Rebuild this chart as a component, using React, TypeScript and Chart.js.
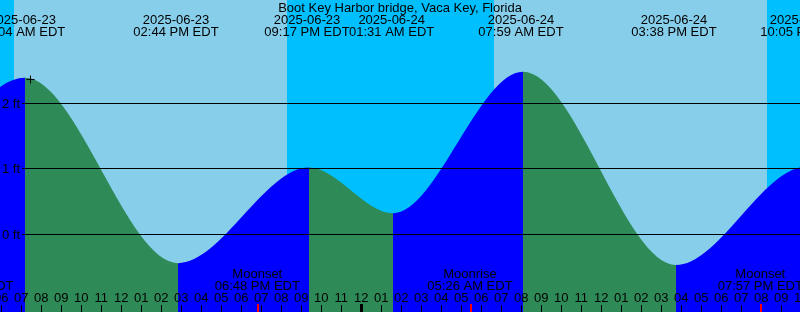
import React, { useEffect, useRef } from "react";
import { Chart, registerables } from "chart.js";

Chart.register(...registerables);

// x axis: hours since 2025-06-23 06:00 EDT ; y axis: feet
const X_MIN = -0.065;
const X_MAX = 39.935;
const Y_MIN = -1.186;
const Y_MAX = 3.577;

const TITLE = "Boot Key Harbor bridge, Vaca Key, Florida";

// tide curve extremes
const tideHours = [-5.3, 1.185, 8.835, 15.385, 19.585, 26.085, 33.735, 40.25, 46.5];
const tideFeet = [0.3, 2.39, -0.44, 1.02, 0.32, 2.48, -0.47, 1.03, 0.3];

// tide event labels (header)
const eventHours = [1.067, 8.733, 15.283, 19.517, 25.983, 33.633, 40.083];
const eventDates = ["2025-06-23", "2025-06-23", "2025-06-23", "2025-06-24", "2025-06-24", "2025-06-24", "2025-06-24"];
const eventTimes = ["07:04 AM EDT", "02:44 PM EDT", "09:17 PM EDT", "01:31 AM EDT", "07:59 AM EDT", "03:38 PM EDT", "10:05 PM EDT"];

// night (sunset -> sunrise) intervals
const nightStart = [-2, 14.27, 38.285];
const nightEnd = [0.62, 24.635, 42];

// moon events
const moonHours = [-1.52, 12.8, 23.433, 37.95];
const moonNames = ["Moonrise", "Moonset", "Moonrise", "Moonset"];
const moonTimes = ["04:29 AM EDT", "06:48 PM EDT", "05:26 AM EDT", "07:57 PM EDT"];

// hour ticks (index = hours since 06:00)
const hourLabels = [
  "06", "07", "08", "09", "10", "11", "12", "01", "02", "03", "04", "05",
  "06", "07", "08", "09", "10", "11", "12", "01", "02", "03", "04", "05",
  "06", "07", "08", "09", "10", "11", "12", "01", "02", "03", "04", "05",
  "06", "07", "08", "09", "10",
];
const midnightHours = [18];

// level grid
const levelTicks = [0, 1, 2];
const levelLabels = ["0 ft", "1 ft", "2 ft"];

// "+" mark
const markHours = [1.46];
const markFeet = [2.363];

const DAY = "#87CEEB";
const NIGHT = "#00BFFF";
const FLOOD = "#0000FF";
const EBB = "#2E8B57";
const FONT = '13px "Liberation Sans", Arial, sans-serif';

const decor = {
  id: "tideDecor",
  beforeDatasetsDraw(chart: any) {
    const { ctx, chartArea: a, scales } = chart;
    const x = scales.x;
    ctx.save();
    ctx.fillStyle = DAY;
    ctx.fillRect(a.left, a.top, a.right - a.left, a.bottom - a.top);
    ctx.fillStyle = NIGHT;
    nightStart.forEach((s, i) => {
      const x0 = Math.round(x.getPixelForValue(s));
      const x1 = Math.round(x.getPixelForValue(nightEnd[i]));
      ctx.fillRect(x0, a.top, x1 - x0, a.bottom - a.top);
    });
    ctx.restore();
  },
  afterDatasetsDraw(chart: any) {
    const { ctx, chartArea: a, scales } = chart;
    const y = scales.y;
    ctx.save();
    ctx.strokeStyle = "#000";
    ctx.lineWidth = 1;
    ctx.fillStyle = "#000";
    ctx.font = FONT;
    ctx.textAlign = "right";
    ctx.textBaseline = "alphabetic";
    levelTicks.forEach((v, i) => {
      const py = y.getPixelForValue(v);
      const row = Math.floor(py) + 0.5;
      ctx.beginPath();
      ctx.moveTo(22, row);
      ctx.lineTo(a.right, row);
      ctx.stroke();
      ctx.fillText(levelLabels[i], 20, Math.floor(py) + 4.5);
    });
    ctx.restore();
  },
  afterDraw(chart: any) {
    const { ctx, scales } = chart;
    const x = scales.x;
    ctx.save();
    ctx.fillStyle = "#000";
    ctx.font = FONT;
    ctx.textAlign = "center";
    ctx.textBaseline = "alphabetic";
    ctx.fillText(TITLE, 400, 12);
    eventHours.forEach((h, i) => {
      const px = x.getPixelForValue(h);
      ctx.fillText(eventDates[i], px, 24);
      ctx.fillText(eventTimes[i], px, 36);
    });
    moonHours.forEach((h, i) => {
      const px = x.getPixelForValue(h);
      ctx.fillText(moonNames[i], px, 278);
      ctx.fillText(moonTimes[i], px, 290);
    });
    hourLabels.forEach((lab, h) => {
      const px = x.getPixelForValue(h);
      ctx.fillText(lab, px, 302);
      if (midnightHours.includes(h)) {
        ctx.fillRect(Math.floor(px) - 1, 304, 3, 8);
      } else {
        ctx.fillRect(Math.floor(px), 305, 1, 7);
      }
    });
    ctx.fillStyle = "#FF0000";
    moonHours.forEach((h) => {
      const px = x.getPixelForValue(h);
      ctx.fillRect(Math.round(px), 304, 2, 8);
    });
    ctx.restore();
  },
};

export default function App() {
  const ref = useRef<HTMLCanvasElement>(null);
  useEffect(() => {
    const tide = tideHours.map((h, i) => ({ x: h, y: tideFeet[i] }));
    const mark = markHours.map((h, i) => ({ x: h, y: markFeet[i] }));
    const chart = new Chart(ref.current as HTMLCanvasElement, {
      type: "line",
      data: {
        datasets: [
          {
            type: "scatter",
            data: mark,
            pointStyle: "cross",
            pointRadius: 4,
            pointHoverRadius: 4,
            borderColor: "#000",
            borderWidth: 1,
            showLine: false,
          } as any,
          {
            type: "line",
            data: tide,
            borderColor: "rgba(0,0,0,0)",
            borderWidth: 0,
            pointRadius: 0,
            pointHoverRadius: 0,
            backgroundColor: FLOOD,
            fill: "start",
            cubicInterpolationMode: "monotone",
            segment: {
              backgroundColor: (c: any) => (c.p1.parsed.y > c.p0.parsed.y ? FLOOD : EBB),
            },
          } as any,
        ],
      },
      options: {
        responsive: false,
        animation: false,
        devicePixelRatio: 1,
        events: [],
        layout: { padding: 0, autoPadding: false },
        plugins: {
          legend: { display: false },
          tooltip: { enabled: false },
          title: { display: false },
        },
        scales: {
          x: { type: "linear", min: X_MIN, max: X_MAX, display: false },
          y: { type: "linear", min: Y_MIN, max: Y_MAX, display: false },
        },
      },
      plugins: [decor],
    });
    return () => chart.destroy();
  }, []);
  return (
    <div style={{ position: "fixed", left: 0, top: 0, width: 800, height: 312 }}>
      <canvas ref={ref} width={800} height={312} style={{ display: "block" }} />
    </div>
  );
}
